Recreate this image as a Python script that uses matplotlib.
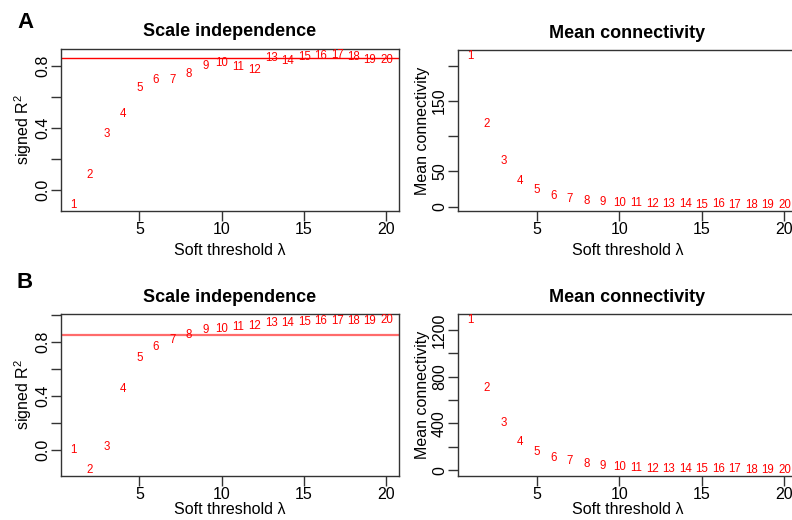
import matplotlib
matplotlib.use("Agg")
import matplotlib.pyplot as plt
import numpy as np

plt.rcParams["font.family"] = ["Liberation Sans", "DejaVu Sans"]
plt.rcParams["mathtext.fontset"] = "custom"
plt.rcParams["mathtext.rm"] = "Liberation Sans"
plt.rcParams["mathtext.it"] = "Liberation Sans:italic"

# soft-threshold powers
powers = np.arange(1, 21)

# panel A
sft_r2_a = [-0.10, 0.095, 0.36, 0.49, 0.655, 0.71, 0.71, 0.75, 0.80, 0.82,
            0.79, 0.775, 0.85, 0.83, 0.857, 0.862, 0.87, 0.857, 0.84, 0.84]
mean_k_a = [214, 117, 65, 37, 23, 14.5, 10.5, 7.5, 6, 4.8,
            4.5, 3.8, 3.5, 3.2, 3.0, 3.2, 2.5, 2.3, 2.3, 2.8]

# panel B
sft_r2_b = [-0.005, -0.15, 0.022, 0.452, 0.68, 0.763, 0.817, 0.852, 0.886, 0.899,
            0.914, 0.919, 0.941, 0.941, 0.951, 0.958, 0.958, 0.958, 0.958, 0.963]
mean_k_b = [1284, 702, 407, 244, 158, 100, 77, 49, 32, 23,
            14, 11.5, 11.5, 6, 6, 6, 6, 4, 1, 1]

r2_cut = 0.85

W, H = 792, 520
fig = plt.figure(figsize=(W / 100, H / 100), dpi=100)


def make_axes(left, top, right, bottom):
    return fig.add_axes([left / W, 1 - bottom / H, (right - left) / W, (bottom - top) / H])


def r_range(vals):
    lo, hi = min(vals), max(vals)
    ext = 0.04 * (hi - lo)
    return lo - ext, hi + ext


def panel(ax, vals, title, ylabel, yticks, ylabels, xpad, line=None):
    ax.set_ylim(*r_range(vals))
    for p, v in zip(powers, vals):
        ax.text(p, v, str(p), color="red", fontsize=8.3, ha="center", va="center")
    if line is not None:
        ax.axhline(r2_cut, **line)
    for s in ["top", "right", "left", "bottom"]:
        ax.spines[s].set_linewidth(1.0)
        ax.spines[s].set_color("#333333")
    ax.set_xlim(0.24, 20.76)
    ax.set_xticks([5, 10, 15, 20])
    ax.set_yticks(yticks)
    ax.set_yticklabels(ylabels, rotation=90, va="center")
    ax.tick_params(axis="both", length=7, width=1.0, labelsize=11.5, color="#333333", pad=1)
    ax.set_xlabel("Soft threshold λ", fontsize=11.5, labelpad=xpad)
    ax.set_title(title, fontsize=13, fontweight="bold", pad=9)
    ax.set_ylabel(ylabel, fontsize=11.5, labelpad=1)


r2_ticks_a = [0.0, 0.2, 0.4, 0.6, 0.8]
r2_labels_a = ["0.0", "", "0.4", "", "0.8"]
r2_ticks_b = [0.0, 0.2, 0.4, 0.6, 0.8, 1.0]
r2_labels_b = ["0.0", "", "0.4", "", "0.8", ""]
k_ticks_a = [0, 50, 100, 150, 200]
k_labels_a = ["0", "50", "", "150", ""]
k_ticks_b = [0, 200, 400, 600, 800, 1000, 1200]
k_labels_b = ["0", "", "400", "", "800", "", "1200"]

ax1 = make_axes(61, 49, 399, 211)
panel(ax1, sft_r2_a, "Scale independence", r"signed R$^2$", r2_ticks_a, r2_labels_a, 4,
      line=dict(color="red", lw=1.0))

ax2 = make_axes(458, 50, 797, 211)
panel(ax2, mean_k_a, "Mean connectivity", "Mean connectivity", k_ticks_a, k_labels_a, 4)

ax3 = make_axes(61, 314, 399, 476)
panel(ax3, sft_r2_b, "Scale independence", r"signed R$^2$", r2_ticks_b, r2_labels_b, 0,
      line=dict(color="#ff6b6b", lw=1.6))

ax4 = make_axes(458, 314, 797, 476)
panel(ax4, mean_k_b, "Mean connectivity", "Mean connectivity", k_ticks_b, k_labels_b, 0)

fig.text(25 / W, 1 - 22 / H, "A", fontsize=16, fontweight="bold", ha="center", va="center")
fig.text(25 / W, 1 - 283 / H, "B", fontsize=16, fontweight="bold", ha="center", va="center")

fig.savefig("out.png", dpi=100)
